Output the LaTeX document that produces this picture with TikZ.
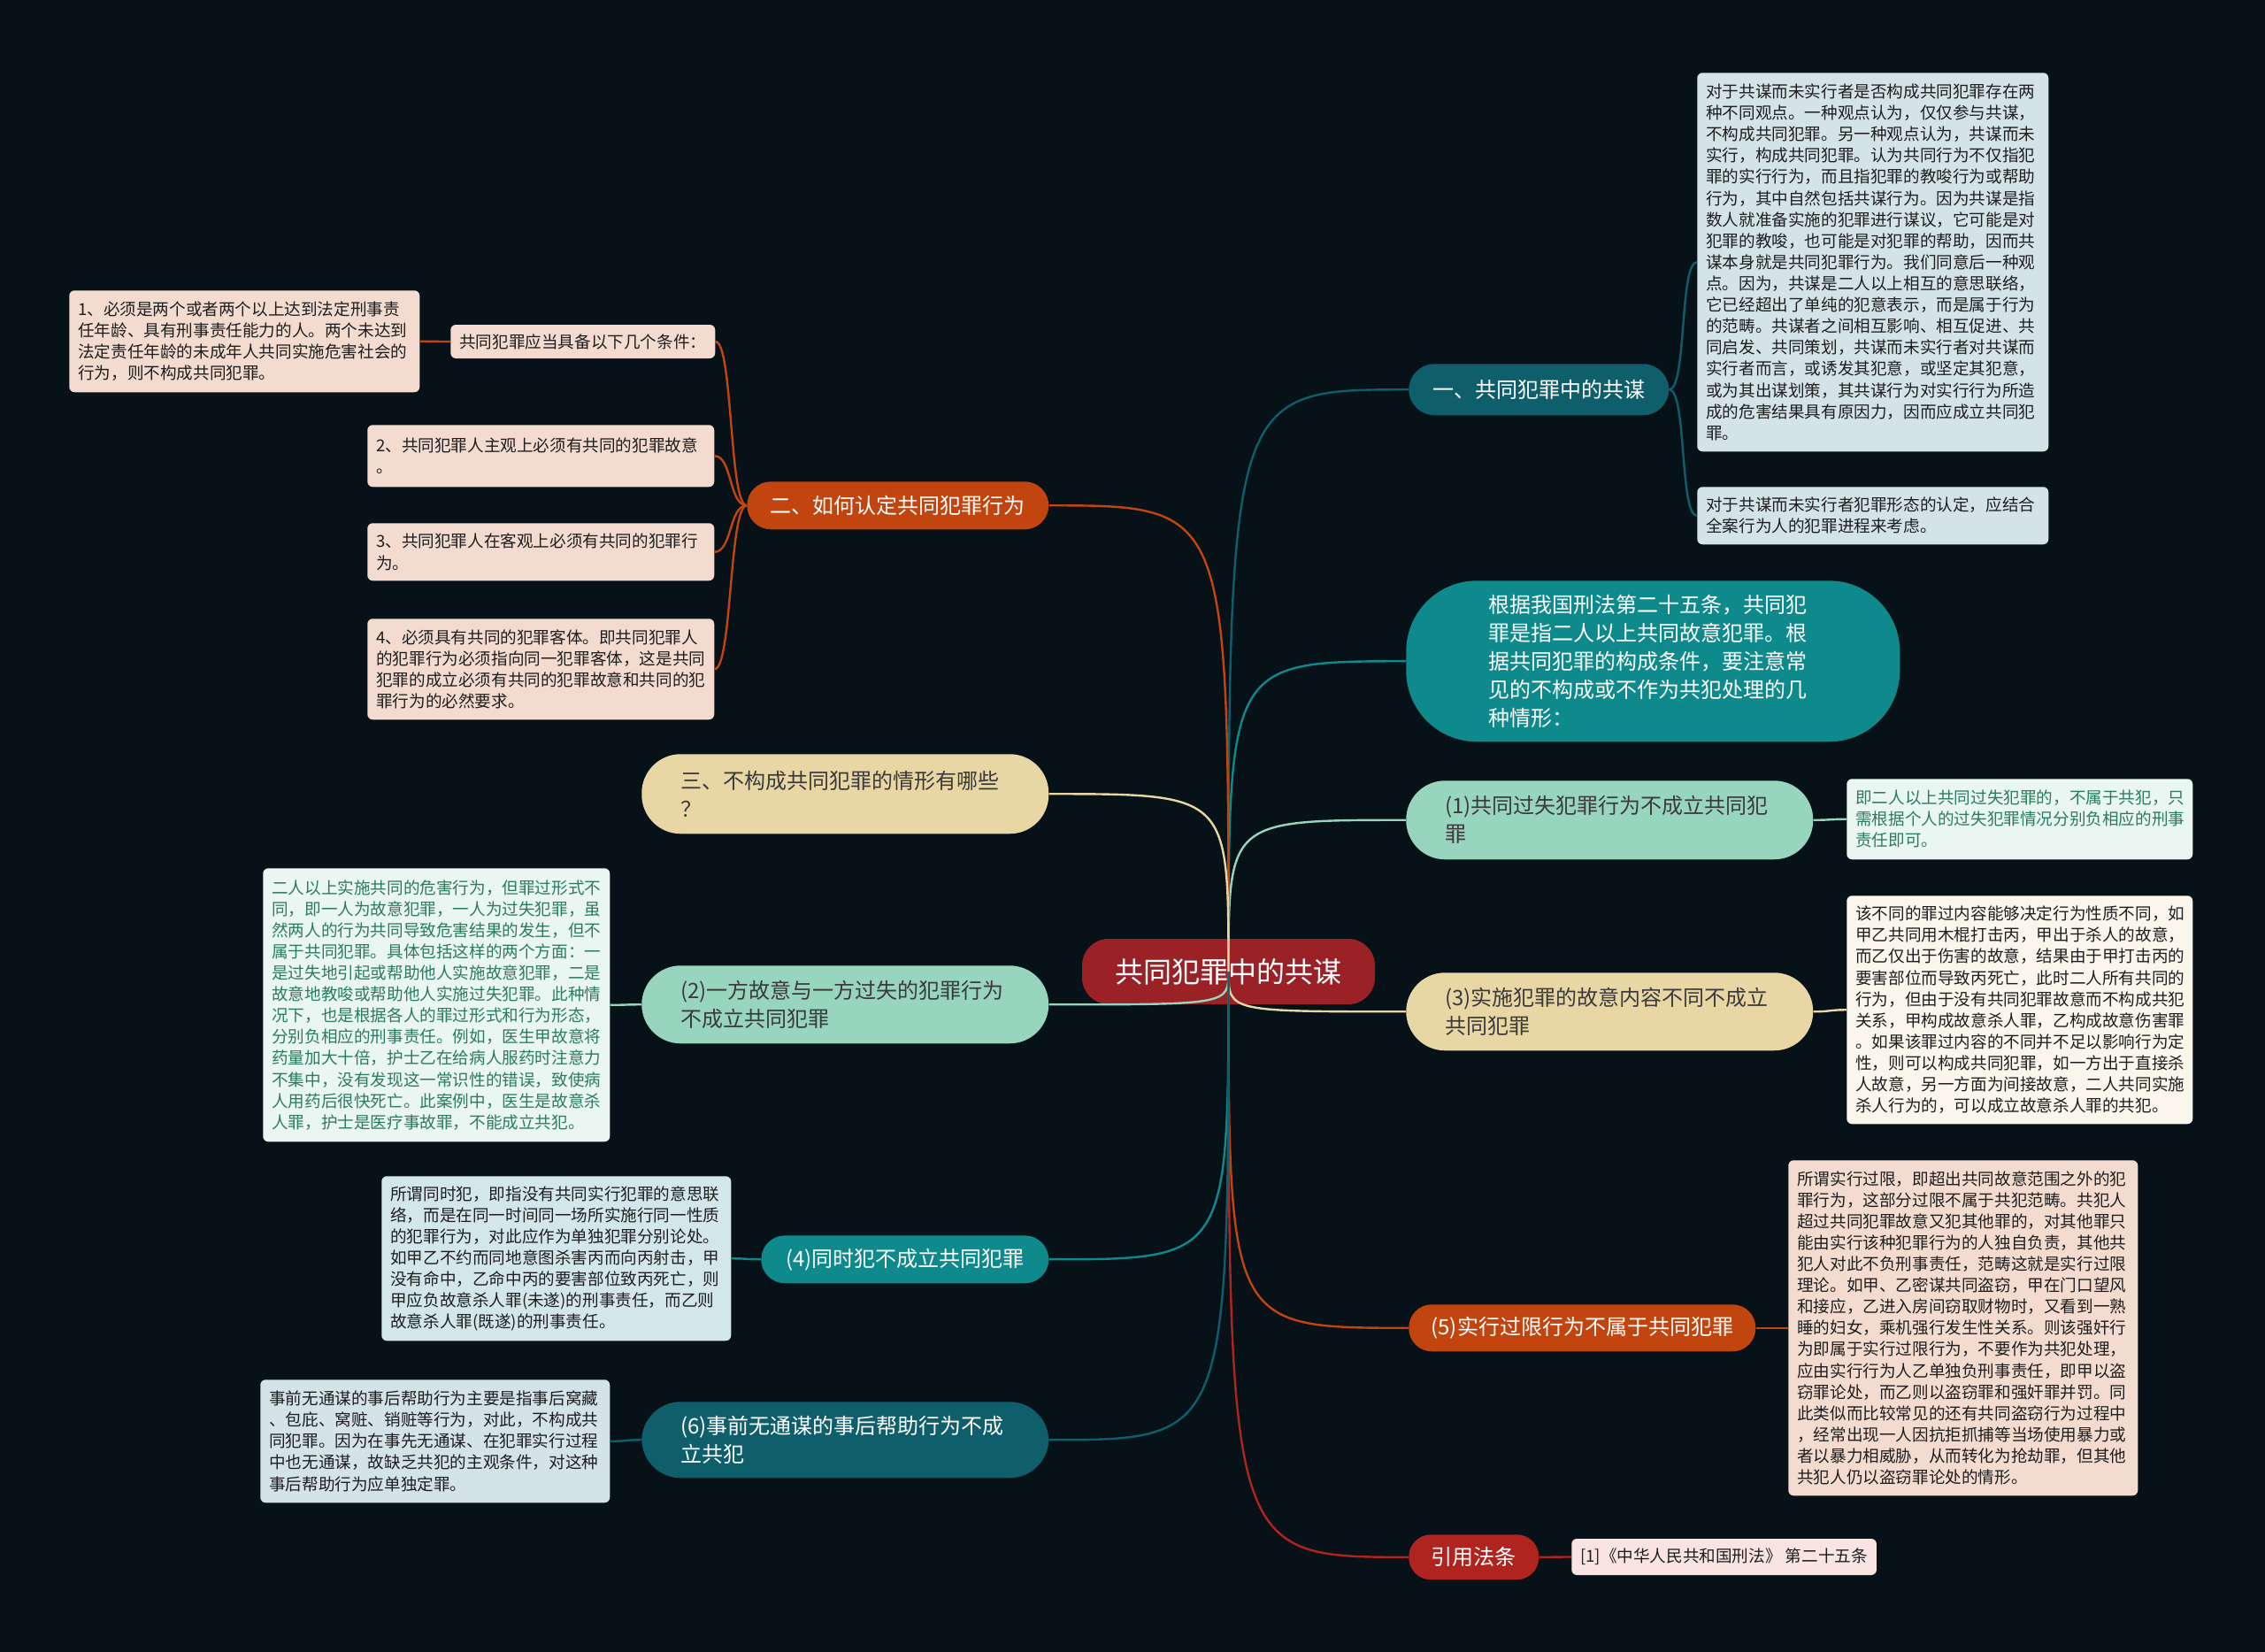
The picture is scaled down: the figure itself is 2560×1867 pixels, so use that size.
\documentclass[tikz,border=0pt]{standalone}
\usepackage{fontspec}
\newfontfamily\cjk{Noto Sans CJK SC}
\usetikzlibrary{calc}
\newlength\pxu
\setlength\pxu{0.75pt}
\definecolor{bg}{HTML}{061118}
\definecolor{darkteal}{HTML}{0F5E6B}
\definecolor{teal}{HTML}{0E8A8C}
\definecolor{mint}{HTML}{97D5BF}
\definecolor{sand}{HTML}{E8D7A5}
\definecolor{rust}{HTML}{C2440F}
\definecolor{lawred}{HTML}{B0241F}
\definecolor{cenred}{HTML}{9A2227}
\definecolor{bluegrey}{HTML}{D4E3E6}
\definecolor{cyanlight}{HTML}{D3E7EA}
\definecolor{mintlight}{HTML}{E9F6F1}
\definecolor{minttext}{HTML}{2D7B5C}
\definecolor{cream}{HTML}{FBF6EB}
\definecolor{peach}{HTML}{F3DBD0}
\definecolor{pinklight}{HTML}{F9E4E2}
\definecolor{ink}{HTML}{1E1E1E}
\definecolor{darkink}{HTML}{3A3A3A}
\begin{document}
\begin{tikzpicture}[x=0.75pt,y=-0.75pt,
  leaf/.style={anchor=north west, rounded corners=6\pxu, inner xsep=10\pxu, inner ysep=0pt,
    align=left, text=ink, font=\cjk\fontsize{13.95}{18.08}\selectfont},
  leafone/.style={anchor=west, rounded corners=6\pxu, inner xsep=10\pxu, inner ysep=0pt,
    text=ink, font=\cjk\fontsize{13.95}{18.08}\selectfont},
  mainone/.style={anchor=north west, inner sep=0pt, align=center,
    font=\cjk\fontsize{18}{24}\selectfont},
  maintwo/.style={anchor=north west, inner ysep=0pt, inner xsep=44\pxu, text width=372\pxu,
    minimum width=460\pxu, align=left, rounded corners=44\pxu,
    font=\cjk\fontsize{18}{24}\selectfont},
  hub/.style={line width=1.8pt, to path={.. controls (\tikztostart |- \tikztotarget) .. (\tikztotarget)}},
  bR/.style={line width=1.8pt, to path={.. controls ($(\tikztostart)+(20,0)$) and ($(\tikztotarget)+(-20,0)$) .. (\tikztotarget)}},
  bL/.style={line width=1.8pt, to path={.. controls ($(\tikztostart)+(-20,0)$) and ($(\tikztotarget)+(20,0)$) .. (\tikztotarget)}}
]
\fill[bg] (0,0) rectangle (2560,1867);
\useasboundingbox (0,0) rectangle (2560,1867);

% centre
\node[fill=cenred, text=white, rounded corners=30\pxu, minimum width=331\pxu, minimum height=74\pxu,
  inner sep=0pt, font=\cjk\fontsize{24}{30}\selectfont] (cen) at (1388.5,1098) {共同犯罪中的共谋};

% main nodes (right)
\node[mainone, fill=darkteal, text=white, minimum width=294\pxu, minimum height=58\pxu, rounded corners=29\pxu] (A1) at (1592,411) {一、共同犯罪中的共谋};
\node[anchor=north west, fill=teal, text=white, inner ysep=0pt, inner xsep=93\pxu, text width=372\pxu,
  minimum height=182\pxu, rounded corners=80\pxu, align=left, font=\cjk\fontsize{18}{24}\selectfont] (Apill) at (1589,656)
  {根据我国刑法第二十五条，共同犯\\罪是指二人以上共同故意犯罪。根\\据共同犯罪的构成条件，要注意常\\见的不构成或不作为共犯处理的几\\种情形：};
\node[maintwo, fill=mint, text=darkink, minimum height=89\pxu] (Ap1) at (1589,882) {(1)共同过失犯罪行为不成立共同犯\\罪};
\node[maintwo, fill=sand, text=darkink, minimum height=88\pxu] (Ap3) at (1589,1099) {(3)实施犯罪的故意内容不同不成立\\共同犯罪};
\node[mainone, fill=rust, text=white, minimum width=392\pxu, minimum height=53\pxu, rounded corners=26\pxu] (Ap5) at (1592,1474) {(5)实行过限行为不属于共同犯罪};
\node[mainone, fill=lawred, text=white, minimum width=147\pxu, minimum height=51\pxu, rounded corners=25\pxu] (Aref) at (1592,1734) {引用法条};

% main nodes (left)
\node[mainone, fill=rust, text=white, minimum width=341\pxu, minimum height=54\pxu, rounded corners=27\pxu] (B2) at (844,544) {二、如何认定共同犯罪行为};
\node[maintwo, fill=sand, text=darkink, minimum height=90\pxu] (B3) at (725,852) {三、不构成共同犯罪的情形有哪些\\？};
\node[maintwo, fill=mint, text=darkink, minimum height=88\pxu] (Bp2) at (725,1091) {(2)一方故意与一方过失的犯罪行为\\不成立共同犯罪};
\node[mainone, fill=teal, text=white, minimum width=325\pxu, minimum height=54\pxu, rounded corners=27\pxu] (Bp4) at (860,1396) {(4)同时犯不成立共同犯罪};
\node[maintwo, fill=darkteal, text=white, minimum height=86\pxu] (Bp6) at (725,1584) {(6)事前无通谋的事后帮助行为不成\\立共犯};

% leaves right
\node[leaf, fill=bluegrey, text width=377\pxu, minimum height=428\pxu] (t1) at (1918,82)
{对于共谋而未实行者是否构成共同犯罪存在两\\种不同观点。一种观点认为，仅仅参与共谋，\\不构成共同犯罪。另一种观点认为，共谋而未\\实行，构成共同犯罪。认为共同行为不仅指犯\\罪的实行行为，而且指犯罪的教唆行为或帮助\\行为，其中自然包括共谋行为。因为共谋是指\\数人就准备实施的犯罪进行谋议，它可能是对\\犯罪的教唆，也可能是对犯罪的帮助，因而共\\谋本身就是共同犯罪行为。我们同意后一种观\\点。因为，共谋是二人以上相互的意思联络，\\它已经超出了单纯的犯意表示，而是属于行为\\的范畴。共谋者之间相互影响、相互促进、共\\同启发、共同策划，共谋而未实行者对共谋而\\实行者而言，或诱发其犯意，或坚定其犯意，\\或为其出谋划策，其共谋行为对实行行为所造\\成的危害结果具有原因力，因而应成立共同犯\\罪。};
\node[leaf, fill=bluegrey, text width=377\pxu, minimum height=65\pxu] (t2) at (1918,550)
{对于共谋而未实行者犯罪形态的认定，应结合\\全案行为人的犯罪进程来考虑。};
\node[leaf, fill=mintlight, text=minttext, text width=371\pxu, minimum height=91\pxu] (c1) at (2087,880)
{即二人以上共同过失犯罪的，不属于共犯，只\\需根据个人的过失犯罪情况分别负相应的刑事\\责任即可。};
\node[leaf, fill=cream, text width=371\pxu, minimum height=258\pxu] (c3) at (2087,1012)
{该不同的罪过内容能够决定行为性质不同，如\\甲乙共同用木棍打击丙，甲出于杀人的故意，\\而乙仅出于伤害的故意，结果由于甲打击丙的\\要害部位而导致丙死亡，此时二人所有共同的\\行为，但由于没有共同犯罪故意而不构成共犯\\关系，甲构成故意杀人罪，乙构成故意伤害罪\\。如果该罪过内容的不同并不足以影响行为定\\性，则可以构成共同犯罪，如一方出于直接杀\\人故意，另一方面为间接故意，二人共同实施\\杀人行为的，可以成立故意杀人罪的共犯。};
\node[leaf, fill=peach, text width=375\pxu, minimum height=379\pxu] (c5) at (2021,1311)
{所谓实行过限，即超出共同故意范围之外的犯\\罪行为，这部分过限不属于共犯范畴。共犯人\\超过共同犯罪故意又犯其他罪的，对其他罪只\\能由实行该种犯罪行为的人独自负责，其他共\\犯人对此不负刑事责任，范畴这就是实行过限\\理论。如甲、乙密谋共同盗窃，甲在门口望风\\和接应，乙进入房间窃取财物时，又看到一熟\\睡的妇女，乘机强行发生性关系。则该强奸行\\为即属于实行过限行为，不要作为共犯处理，\\应由实行行为人乙单独负刑事责任，即甲以盗\\窃罪论处，而乙则以盗窃罪和强奸罪并罚。同\\此类似而比较常见的还有共同盗窃行为过程中\\，经常出现一人因抗拒抓捕等当场使用暴力或\\者以暴力相威胁，从而转化为抢劫罪，但其他\\共犯人仍以盗窃罪论处的情形。};
\node[leafone, fill=pinklight, minimum height=41\pxu] (cref) at (1776,1759.5)
{[1]《中华人民共和国刑法》 第二十五条};

% leaves left
\node[leafone, fill=peach, minimum height=38\pxu] (cond) at (509,386)
{共同犯罪应当具备以下几个条件：};
\node[leaf, fill=peach, text width=376\pxu, minimum height=115\pxu] (L1) at (78,328)
{1、必须是两个或者两个以上达到法定刑事责\\任年龄、具有刑事责任能力的人。两个未达到\\法定责任年龄的未成年人共同实施危害社会的\\行为，则不构成共同犯罪。};
\node[leaf, fill=peach, text width=372\pxu, minimum height=70\pxu] (L2) at (415,480)
{2、共同犯罪人主观上必须有共同的犯罪故意\\。};
\node[leaf, fill=peach, text width=372\pxu, minimum height=65\pxu] (L3) at (415,591)
{3、共同犯罪人在客观上必须有共同的犯罪行\\为。};
\node[leaf, fill=peach, text width=372\pxu, minimum height=114\pxu] (L4) at (415,699)
{4、必须具有共同的犯罪客体。即共同犯罪人\\的犯罪行为必须指向同一犯罪客体，这是共同\\犯罪的成立必须有共同的犯罪故意和共同的犯\\罪行为的必然要求。};
\node[leaf, fill=mintlight, text=minttext, text width=372\pxu, minimum height=309\pxu] (c2) at (297,981)
{二人以上实施共同的危害行为，但罪过形式不\\同，即一人为故意犯罪，一人为过失犯罪，虽\\然两人的行为共同导致危害结果的发生，但不\\属于共同犯罪。具体包括这样的两个方面：一\\是过失地引起或帮助他人实施故意犯罪，二是\\故意地教唆或帮助他人实施过失犯罪。此种情\\况下，也是根据各人的罪过形式和行为形态，\\分别负相应的刑事责任。例如，医生甲故意将\\药量加大十倍，护士乙在给病人服药时注意力\\不集中，没有发现这一常识性的错误，致使病\\人用药后很快死亡。此案例中，医生是故意杀\\人罪，护士是医疗事故罪，不能成立共犯。};
\node[leaf, fill=cyanlight, text width=375\pxu, minimum height=186\pxu] (c4) at (431,1329)
{所谓同时犯，即指没有共同实行犯罪的意思联\\络，而是在同一时间同一场所实施行同一性质\\的犯罪行为，对此应作为单独犯罪分别论处。\\如甲乙不约而同地意图杀害丙而向丙射击，甲\\没有命中，乙命中丙的要害部位致丙死亡，则\\甲应负故意杀人罪(未遂)的刑事责任，而乙则\\故意杀人罪(既遂)的刑事责任。};
\node[leaf, fill=bluegrey, text width=375\pxu, minimum height=139\pxu] (c6) at (294,1559)
{事前无通谋的事后帮助行为主要是指事后窝藏\\、包庇、窝赃、销赃等行为，对此，不构成共\\同犯罪。因为在事先无通谋、在犯罪实行过程\\中也无通谋，故缺乏共犯的主观条件，对这种\\事后帮助行为应单独定罪。};

% hub connectors
\draw[hub, darkteal] (cen.center) to (A1.west);
\draw[hub, teal] (cen.center) to (Apill.west);
\draw[hub, mint] (cen.center) to (Ap1.west);
\draw[hub, sand] (cen.center) to (Ap3.west);
\draw[hub, rust] (cen.center) to (Ap5.west);
\draw[hub, lawred] (cen.center) to (Aref.west);
\draw[hub, rust] (cen.center) to (B2.east);
\draw[hub, sand] (cen.center) to (B3.east);
\draw[hub, mint] (cen.center) to (Bp2.east);
\draw[hub, teal] (cen.center) to (Bp4.east);
\draw[hub, darkteal] (cen.center) to (Bp6.east);

% branch to leaf connectors
\draw[bR, darkteal] (A1.east) to (t1.west);
\draw[bR, darkteal] (A1.east) to (t2.west);
\draw[bR, mint] (Ap1.east) to (c1.west);
\draw[bR, sand] (Ap3.east) to (c3.west);
\draw[bR, rust] (Ap5.east) to (c5.west);
\draw[bR, lawred] (Aref.east) to (cref.west);
\draw[bL, rust] (B2.west) to (cond.east);
\draw[bL, rust] (B2.west) to (L2.east);
\draw[bL, rust] (B2.west) to (L3.east);
\draw[bL, rust] (B2.west) to (L4.east);
\draw[bL, rust] (cond.west) to (L1.east);
\draw[bL, mint] (Bp2.west) to (c2.east);
\draw[bL, teal] (Bp4.west) to (c4.east);
\draw[bL, darkteal] (Bp6.west) to (c6.east);
\end{tikzpicture}
\end{document}
